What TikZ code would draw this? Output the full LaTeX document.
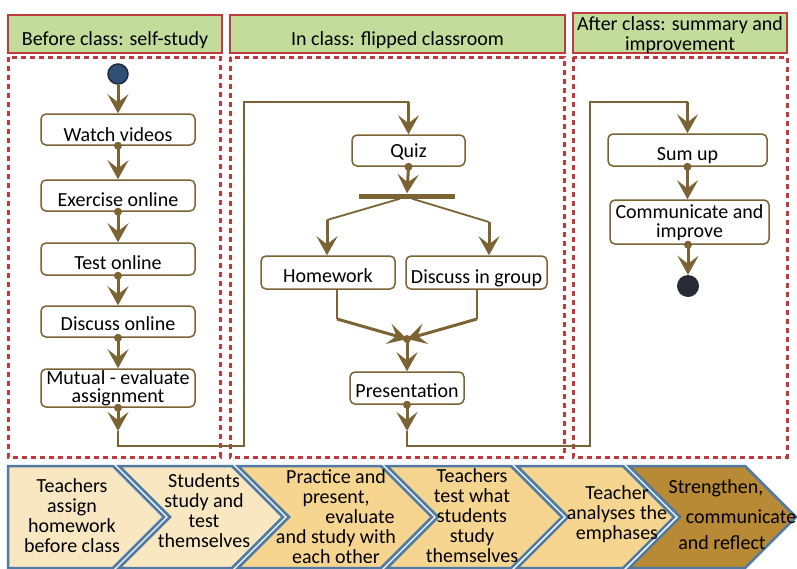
\documentclass[tikz,border=0pt]{standalone}
\usepackage{fontspec}
\setmainfont{Carlito}
\usetikzlibrary{arrows.meta,calc}
\definecolor{redc}{HTML}{C0393F}
\definecolor{hdrg}{HTML}{C3DC9B}
\definecolor{brn}{HTML}{7B6333}
\definecolor{startc}{HTML}{2E5077}
\definecolor{startb}{HTML}{1F2B3A}
\definecolor{endc}{HTML}{262B36}
\definecolor{chevb}{HTML}{4E7AA3}
\definecolor{pale}{HTML}{F9E7C2}
\definecolor{midc}{HTML}{F6D590}
\definecolor{darkc}{HTML}{B88A36}
\newcommand{\fs}{\fontsize{20}{19}\selectfont}
\newcommand{\fc}{\fontsize{20}{20}\selectfont}
\newcommand{\lowr}[2]{\raisebox{-#1}[0pt][0pt]{#2}}
\newcommand{\twol}[4]{\raisebox{-#1}[0pt][0pt]{\makebox[0pt]{\parbox[b]{300pt}{\centering\baselineskip=#2 #3\\#4}}}}
\begin{document}
\begin{tikzpicture}[x=1pt,y=-1pt,
  hdr/.style={draw=redc, line width=2pt, fill=hdrg, inner sep=0pt, align=center, font=\fs},
  lane/.style={draw=redc, line width=3pt, dash pattern=on 5pt off 4pt},
  act/.style={draw=brn, line width=1.5pt, rounded corners=5pt, fill=white, inner sep=0pt, align=center, font=\fs},
  arr/.style={draw=brn, line width=3pt, -{Stealth[length=19pt,width=21pt,inset=8pt]}},
  route/.style={draw=brn, line width=1.8pt},
  chev/.style={draw=chevb, line width=2.5pt, line join=miter},
  ctext/.style={align=center, font=\fc, inner sep=0pt, text=black}
]
\useasboundingbox (0,0) rectangle (797,568);

% lanes
\draw[lane] (8,57) rectangle (220,457);
\draw[lane] (230,57) rectangle (564,457);
\draw[lane] (573,57) rectangle (787,457);

% headers
\node[hdr, minimum width=214pt, minimum height=38pt] (h1) at (115,34) {\lowr{11.5pt}{Before class: self-study}};
\node[hdr, minimum width=335pt, minimum height=38pt] (h2) at (397.5,34) {\lowr{11.5pt}{In class: flipped classroom}};
\node[hdr, minimum width=214pt, minimum height=40pt] (h3) at (680,33) {\twol{17pt}{19.3pt}{After class: summary and}{improvement}};

% left column
\node[circle, fill=startc, draw=startb, line width=1.5pt, minimum size=20pt, inner sep=0pt] (st) at (118,74) {};
\node[act, minimum width=154pt, minimum height=31pt] (wv) at (118,129.5) {\lowr{12pt}{Watch videos}};
\node[act, minimum width=154pt, minimum height=31pt] (eo) at (118,195.5) {\lowr{11pt}{Exercise online}};
\node[act, minimum width=154pt, minimum height=32pt] (to) at (118,259) {\lowr{10pt}{Test online}};
\node[act, minimum width=154pt, minimum height=31pt] (do) at (118,321.5) {\lowr{8.5pt}{Discuss online}};
\node[act, minimum width=154pt, minimum height=38pt] (ma) at (118,388) {\twol{14.5pt}{18pt}{Mutual - evaluate}{assignment}};

\draw[arr] (st.south) -- (wv.north);
\foreach \a/\b in {wv/eo, eo/to, to/do, do/ma}{
  \fill[brn] (\a.south) circle (4pt);
  \draw[arr] (\a.south) -- (\b.north);
}
\fill[brn] (ma.south) circle (4pt);
\coordinate (m1) at (118,431);
\coordinate (c1) at (118,446);
\coordinate (c2) at (244,446);
\coordinate (c3) at (244,102);
\coordinate (c4) at (408.5,102);
\draw[arr] (ma.south) -- (m1);
\draw[route] (m1) -- (c1) -- (c2) -- (c3) -- (c4);

% middle column
\node[act, minimum width=113pt, minimum height=31pt] (qz) at (408.5,150.5) {\lowr{7pt}{Quiz}};
\draw[arr] (c4) -- (qz.north);
\node[fill=brn, minimum width=96pt, minimum height=5pt, inner sep=0pt] (bar) at (407,196) {};
\fill[brn] (qz.south) circle (4pt);
\draw[arr] (qz.south) -- (bar.north);

\node[act, minimum width=134pt, minimum height=33pt] (hw) at (328,272.5) {\lowr{10pt}{Homework}};
\node[act, minimum width=141pt, minimum height=33pt] (dg) at (476.5,272.5) {\lowr{11pt}{Discuss in group}};

\coordinate (f1) at (327,220);
\coordinate (f2) at (489,222);
\draw[route] ($(bar.south)+(-7,0)$) -- (f1);
\draw[route] ($(bar.south)+(5,0)$) -- (f2);
\draw[arr] (f1) -- (f1 |- hw.north);
\draw[arr] (f2) -- (f2 |- dg.north);

\coordinate (jn) at (407,339);
\coordinate (j1) at (337,319);
\coordinate (j2) at (477,319);
\draw[route] (j1 |- hw.south) -- (j1);
\draw[route] (j2 |- dg.south) -- (j2);
\draw[arr] (j1) -- (jn);
\draw[arr] (j2) -- (jn);
\fill[brn] (jn) circle (4pt);

\node[act, minimum width=114pt, minimum height=32pt] (pr) at (407,388) {\lowr{9.5pt}{Presentation}};
\draw[arr] (jn) -- (pr.north);
\fill[brn] (pr.south) circle (4pt);
\coordinate (m2) at (407,431);
\coordinate (d1) at (407,446);
\coordinate (d2) at (590,446);
\coordinate (d3) at (590,102);
\coordinate (d4) at (687.5,102);
\draw[arr] (pr.south) -- (m2);
\draw[route] (m2) -- (d1) -- (d2) -- (d3) -- (d4);

% right column
\node[act, minimum width=159pt, minimum height=32pt] (su) at (687.5,150) {\lowr{10pt}{Sum up}};
\node[act, minimum width=159pt, minimum height=44pt] (ci) at (689.5,222) {\twol{15pt}{19pt}{Communicate and}{improve}};
\node[circle, fill=endc, minimum size=22pt, inner sep=0pt] (en) at (688,286) {};
\draw[arr] (d4) -- (su.north);
\fill[brn] (su.south) circle (4pt);
\draw[arr] (su.south) -- (su.south |- ci.north);
\fill[brn] (ci.south -| en) circle (4pt);
\draw[arr] (ci.south -| en) -- (en.north);

% chevrons
\draw[chev, fill=pale] (8,466) -- (113,466) -- (164,517) -- (113,568) -- (8,568) -- cycle;
\draw[chev, fill=pale] (119,466) -- (232,466) -- (283,517) -- (232,568) -- (119,568) -- (170,517) -- cycle;
\draw[chev, fill=midc] (238,466) -- (381,466) -- (432,517) -- (381,568) -- (238,568) -- (289,517) -- cycle;
\draw[chev, fill=midc] (387,466) -- (511,466) -- (562,517) -- (511,568) -- (387,568) -- (438,517) -- cycle;
\draw[chev, fill=midc] (517,466) -- (623,466) -- (674,517) -- (623,568) -- (517,568) -- (568,517) -- cycle;
\draw[chev, fill=darkc] (629,466) -- (745,466) -- (796,517) -- (745,568) -- (629,568) -- (680,517) -- cycle;

\node[ctext] (t1) at (72,516) {Teachers\\assign\\homework\\before class};
\node[ctext] (t2) at (204,511) {Students\\study and\\test\\themselves};
\node[ctext] (t3) at (336,517) {Practice and\\present,\\\hspace*{2.4em}evaluate\\and study with\\each other};
\node[ctext] (t4) at (472,516) {Teachers\\test what\\students\\study\\themselves};
\node[ctext] (t5) at (617,514) {Teacher\\analyses the\\emphases};
\node[ctext] (t6a) at (716,488) {Strengthen,};
\node[ctext] (t6b) at (741,517) {communicate};
\node[ctext] (t6c) at (722,543) {and reflect};
\end{tikzpicture}
\end{document}
